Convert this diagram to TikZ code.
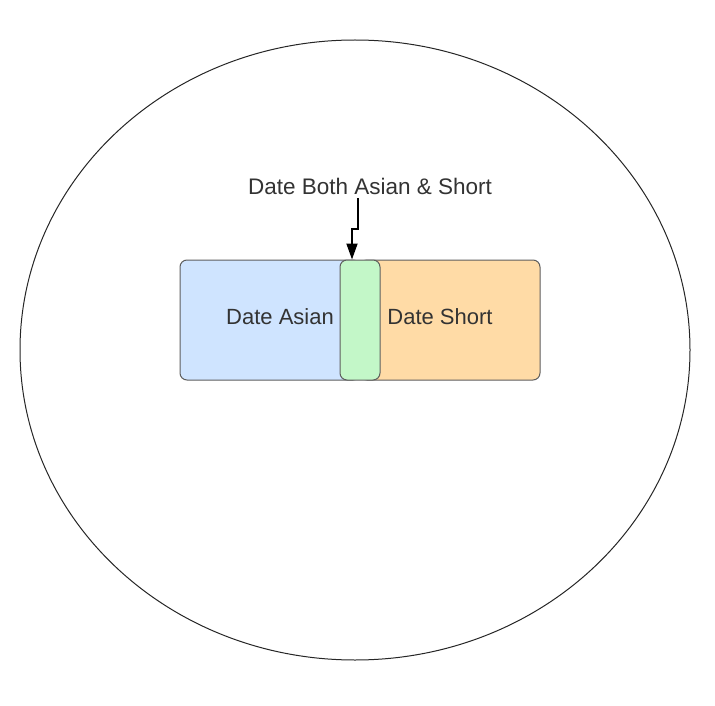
\documentclass[tikz,border=0pt]{standalone}
\usepackage{fontspec}
\setmainfont{Liberation Sans}
\usetikzlibrary{arrows.meta,calc,shapes.geometric}
\definecolor{bluefill}{HTML}{CFE4FF}
\definecolor{greenfill}{HTML}{C3F7C8}
\definecolor{orangefill}{HTML}{FFDBA6}
\definecolor{boxline}{HTML}{5E5E5E}
\definecolor{txt}{HTML}{333333}
\tikzset{
  box/.style={draw=boxline, line width=1pt, rounded corners=7pt, minimum height=120pt, inner sep=0pt},
  lbl/.style={text=txt, font=\fontsize{22}{25}\selectfont, inner sep=0pt},
  arr/.style={draw=black, line width=1.8pt, -{Triangle[length=16pt,width=11pt]}}
}
\begin{document}
\begin{tikzpicture}[x=1pt,y=-1pt]
\useasboundingbox (0,0) rectangle (715,706);
\node[draw=black!85, line width=1pt, ellipse, minimum width=670pt, minimum height=620pt, inner sep=0pt] (outer) at (355,350) {};
\node[box, fill=bluefill, minimum width=180pt] (asian) at (270,320) {};
\node[box, fill=orangefill, minimum width=180pt] (short) at (450,320) {};
\node[box, fill=greenfill, minimum width=40pt] (both) at (360,320) {};
\node[lbl] (asiantxt) at (280,317) {Date Asian};
\node[lbl] (shorttxt) at (440,317) {Date Short};
\node[lbl, font=\fontsize{22.5}{25}\selectfont] (bothtxt) at (370,186) {Date Both Asian \& Short};
\coordinate (a1) at (358,198);
\coordinate (a2) at (358,229);
\coordinate (a3) at (352,229);
\draw[arr] (a1) -- (a2) -- (a3) -- ($(both.north)+(-8,0)$);
\end{tikzpicture}
\end{document}
